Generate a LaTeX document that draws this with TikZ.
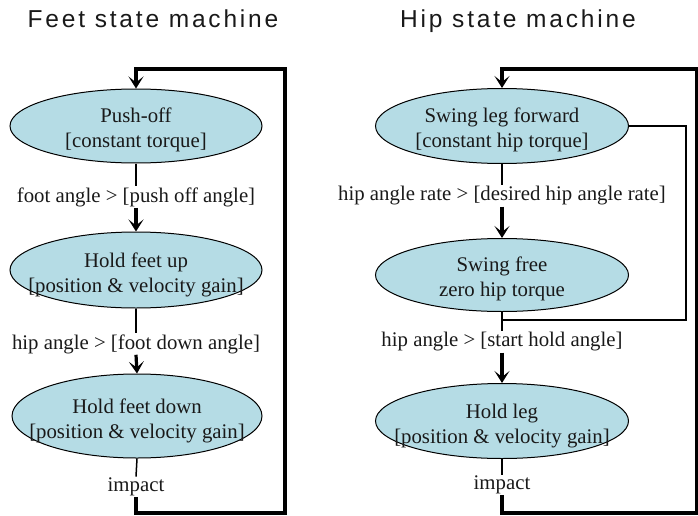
\documentclass[tikz,border=0pt]{standalone}
\usepackage{fontspec}
\setmainfont{Liberation Serif}
\newfontfamily\titlefont[LetterSpace=11.5]{Liberation Sans}
\usetikzlibrary{shapes.geometric,arrows.meta}
\definecolor{stfill}{RGB}{181,220,229}
\definecolor{txt}{RGB}{25,25,25}
\tikzset{
 stell/.style={ellipse,draw=black,line width=1pt,fill=stfill,inner sep=0pt},
 sttext/.style={align=center,font=\fontsize{20.8}{25}\selectfont,text=txt,inner sep=0pt},
 cond/.style={font=\fontsize{20.8}{25}\selectfont,text=txt,inner sep=1pt},
 ttl/.style={font=\titlefont\fontsize{24.5}{28}\selectfont,text=txt,anchor=base},
 thinl/.style={line width=1.5pt},
 tipv/.tip={Stealth[length=12pt,width=15pt,inset=6pt]},
 arr/.style={line width=3.2pt,-tipv},
 bigloop/.style={line width=3.2pt,-tipv},
}
\begin{document}
\begin{tikzpicture}[x=1pt,y=-1pt]
\useasboundingbox (0,0) rectangle (698,516);
% titles
\node[ttl] (t1) at (153,28) {Feet state machine};
\node[ttl] (t2) at (518,28) {Hip state machine};
% left column ellipses
\node[stell,minimum width=252pt,minimum height=74pt] (f1) at (136,126) {};
\node[stell,minimum width=252pt,minimum height=76pt] (f2) at (136,270) {};
\node[stell,minimum width=250pt,minimum height=84pt] (f3) at (137,416) {};
\node[sttext] (f1t) at (136,130) {Push-off\\{[}constant torque]};
\node[sttext] (f2t) at (136,275) {Hold feet up\\{[}position \& velocity gain]};
\node[sttext] (f3t) at (137,421) {Hold feet down\\{[}position \& velocity gain]};
% left conditions
\node[cond] (fl1) at (136,197) {foot angle > [push off angle]};
\node[cond] (fl2) at (136,344) {hip angle > [foot down angle]};
\node[cond] (fl3) at (136,487) {impact};
\draw[thinl] (f1.south) -- (fl1.north);
\draw[arr] (fl1.south) -- (f2.north);
\draw[thinl] (f2.south) -- (fl2.north);
\draw[arr] (fl2.south) -- (f3.north);
\draw[thinl] (f3.south) -- (fl3.north);
\coordinate (lc1) at (285,513);
\coordinate (lc2) at (136,69);
\draw[bigloop] (fl3.south) |- (lc1) |- (lc2) -- (f1.north);
% right column ellipses
\node[stell,minimum width=253pt,minimum height=75pt] (h1) at (502,126) {};
\node[stell,minimum width=253pt,minimum height=73pt] (h2) at (502,275) {};
\node[stell,minimum width=253pt,minimum height=75pt] (h3) at (502,421) {};
\node[sttext] (h1t) at (502,130) {Swing leg forward\\{[}constant hip torque]};
\node[sttext] (h2t) at (502,279) {Swing free\\zero hip torque};
\node[sttext] (h3t) at (502,426) {Hold leg\\{[}position \& velocity gain]};
% right conditions
\node[cond] (hl1) at (502,196) {hip angle rate > [desired hip angle rate]};
\node[cond] (hl2) at (502,342) {hip angle > [start hold angle]};
\node[cond] (hl3) at (502,485) {impact};
\draw[thinl] (h1.south) -- (hl1.north);
\draw[arr] (hl1.south) -- (h2.north);
\coordinate (hr) at (686,320);
\draw[thinl] (h1.east) -| (hr) -- (h2.south |- hr);
\draw[thinl] (h2.south) -- (hl2.north);
\draw[arr] (hl2.south) -- (h3.north);
\draw[thinl] (h3.south) -- (hl3.north);
\coordinate (rc1) at (696.5,513);
\coordinate (rc2) at (502,69);
\draw[bigloop] (hl3.south) |- (rc1) |- (rc2) -- (h1.north);
\end{tikzpicture}
\end{document}
